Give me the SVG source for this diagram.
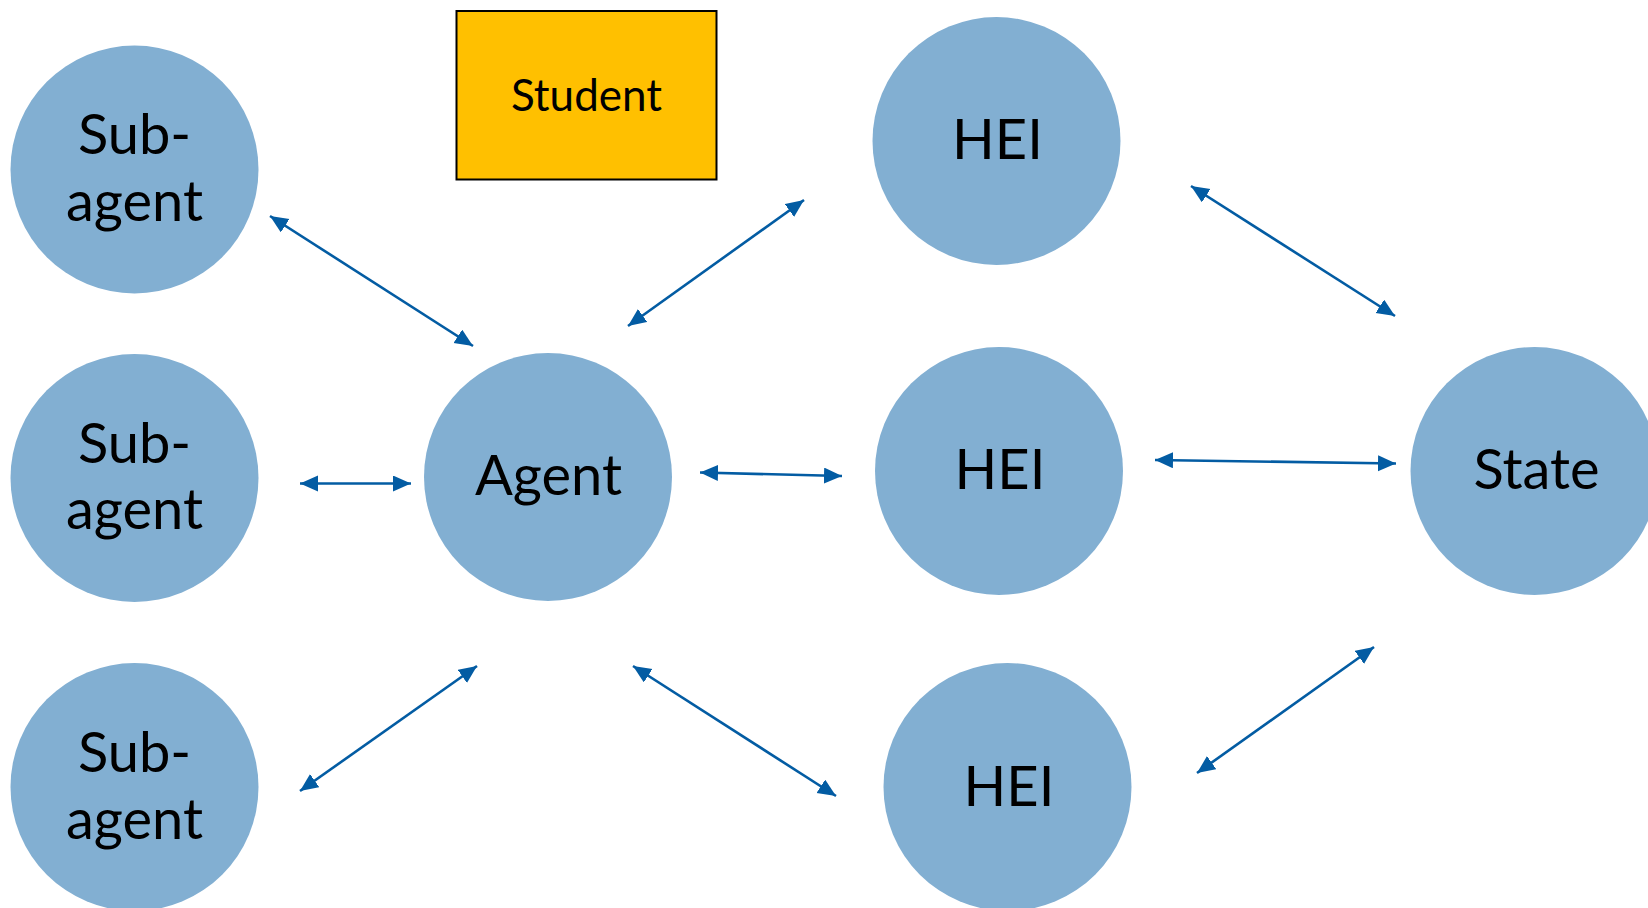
<svg xmlns="http://www.w3.org/2000/svg" width="1648" height="908" viewBox="0 0 1648 908">
<defs>
<style>
.node{fill:#82AFD2;}
.lbl{font-family:Lato,"Open Sans","Liberation Sans",sans-serif;font-size:56px;fill:#000;text-anchor:middle;}
.conn{stroke:#035CA3;stroke-width:2.6;fill:none;marker-start:url(#ah);marker-end:url(#ah);}
</style>
<marker id="ah" markerUnits="userSpaceOnUse" markerWidth="20" markerHeight="18" refX="18" refY="8" orient="auto-start-reverse" viewBox="0 0 20 18">
<path d="M0,0 L18,8 L0,16 z" fill="#035CA3"/>
</marker>
</defs>
<rect width="1648" height="908" fill="#fff"/>
<g id="connectors">
<line class="conn" x1="270" y1="216" x2="473" y2="346"/>
<line class="conn" x1="628" y1="326" x2="804" y2="200"/>
<line class="conn" x1="1191" y1="186" x2="1395" y2="316"/>
<line class="conn" x1="300" y1="483.5" x2="411" y2="483.5"/>
<line class="conn" x1="700" y1="472.5" x2="842" y2="476"/>
<line class="conn" x1="1155" y1="460" x2="1396" y2="463.5"/>
<line class="conn" x1="300" y1="791" x2="477" y2="666"/>
<line class="conn" x1="633" y1="666" x2="836" y2="796"/>
<line class="conn" x1="1197" y1="773" x2="1374" y2="647"/>
</g>
<g id="student">
<rect x="456.5" y="11" width="260" height="168.5" fill="#FFC000" stroke="#000" stroke-width="2"/>
<text class="lbl" x="586.5" y="111" style="font-size:44px">Student</text>
</g>
<g id="subagent1">
<circle class="node" cx="134.5" cy="169.5" r="124"/>
<text class="lbl" x="134.5" y="154">Sub-</text>
<text class="lbl" x="134.5" y="220.5">agent</text>
</g>
<g id="subagent2">
<circle class="node" cx="134.5" cy="478" r="124"/>
<text class="lbl" x="134.5" y="462.5">Sub-</text>
<text class="lbl" x="134.5" y="529">agent</text>
</g>
<g id="subagent3">
<circle class="node" cx="134.5" cy="787" r="124"/>
<text class="lbl" x="134.5" y="772">Sub-</text>
<text class="lbl" x="134.5" y="838.5">agent</text>
</g>
<g id="agent">
<circle class="node" cx="548" cy="477" r="124"/>
<text class="lbl" x="548.5" y="495">Agent</text>
</g>
<g id="hei1">
<circle class="node" cx="996.5" cy="141" r="124"/>
<text class="lbl" x="997.5" y="159">HEI</text>
</g>
<g id="hei2">
<circle class="node" cx="999" cy="471" r="124"/>
<text class="lbl" x="1000" y="489">HEI</text>
</g>
<g id="hei3">
<circle class="node" cx="1007.5" cy="787" r="124"/>
<text class="lbl" x="1009" y="806">HEI</text>
</g>
<g id="state">
<circle class="node" cx="1534.5" cy="471" r="124"/>
<text class="lbl" x="1536.5" y="489">State</text>
</g>
</svg>
